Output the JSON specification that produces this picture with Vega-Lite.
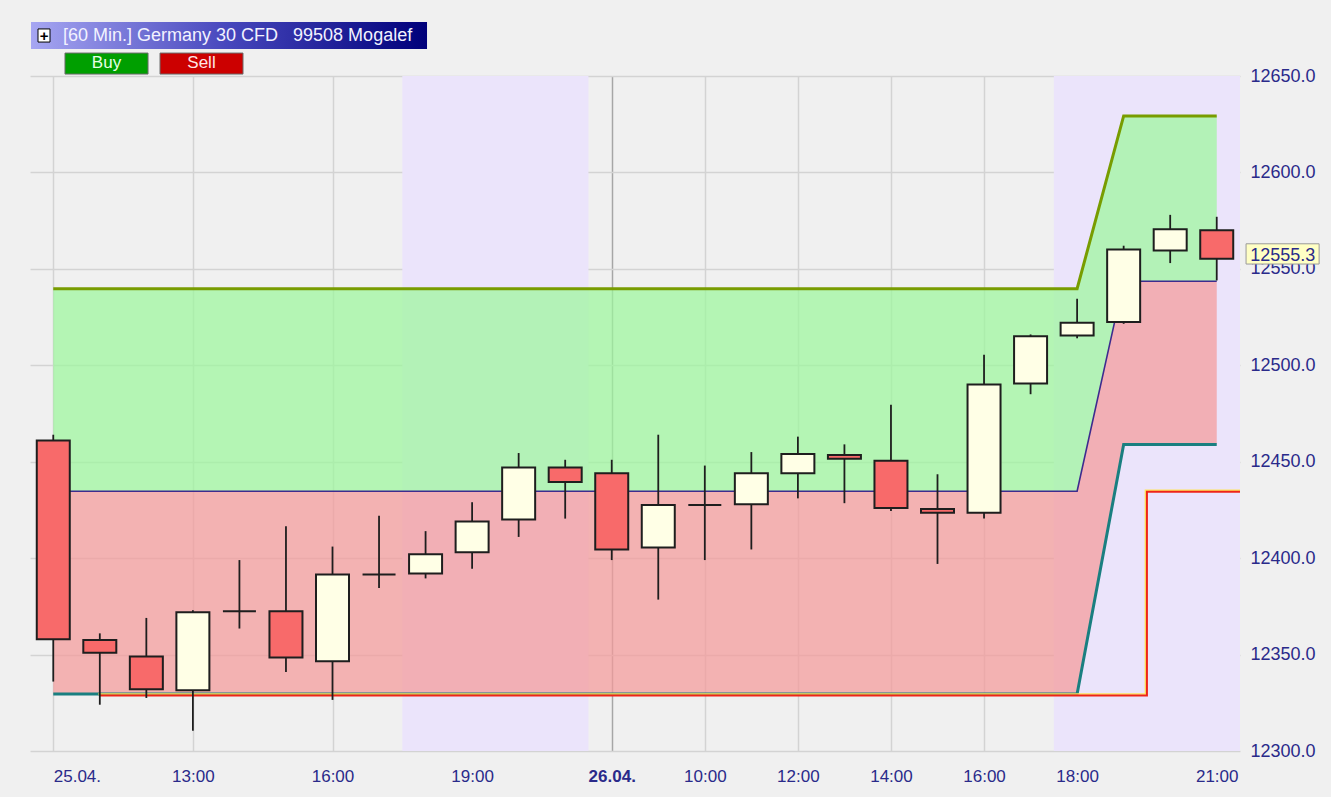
{
  "$schema": "https://vega.github.io/schema/vega-lite/v6.json",
  "width": 1210,
  "height": 675,
  "autosize": {"type": "none"},
  "padding": {"left": 30, "top": 76, "right": 91, "bottom": 46},
  "background": "#f0f0f0",
  "config": {"view": {"stroke": null}, "font": "Liberation Sans"},
  "datasets": {
    "candles": [
      {"i": 0, "time": "25.04. 10:00", "open": 12461, "high": 12464, "low": 12336, "close": 12358, "upper": 12539.7, "middle": 12434.7, "lower": 12329.6},
      {"i": 1, "time": "11:00", "open": 12357.5, "high": 12361, "low": 12324, "close": 12351, "upper": 12539.7, "middle": 12434.7, "lower": 12329.6},
      {"i": 2, "time": "12:00", "open": 12349, "high": 12369, "low": 12327.5, "close": 12332, "upper": 12539.7, "middle": 12434.7, "lower": 12329.6},
      {"i": 3, "time": "13:00", "open": 12331.5, "high": 12373, "low": 12310.5, "close": 12372, "upper": 12539.7, "middle": 12434.7, "lower": 12329.6},
      {"i": 4, "time": "14:00", "open": 12372.5, "high": 12399, "low": 12363.5, "close": 12372.5, "upper": 12539.7, "middle": 12434.7, "lower": 12329.6},
      {"i": 5, "time": "15:00", "open": 12372.5, "high": 12416.5, "low": 12341, "close": 12348.5, "upper": 12539.7, "middle": 12434.7, "lower": 12329.6},
      {"i": 6, "time": "16:00", "open": 12346.5, "high": 12406, "low": 12326.5, "close": 12391.5, "upper": 12539.7, "middle": 12434.7, "lower": 12329.6},
      {"i": 7, "time": "17:00", "open": 12391.5, "high": 12422, "low": 12384.5, "close": 12391.5, "upper": 12539.7, "middle": 12434.7, "lower": 12329.6},
      {"i": 8, "time": "18:00", "open": 12392, "high": 12414, "low": 12389.5, "close": 12402, "upper": 12539.7, "middle": 12434.7, "lower": 12329.6},
      {"i": 9, "time": "19:00", "open": 12403, "high": 12429, "low": 12394.5, "close": 12419, "upper": 12539.7, "middle": 12434.7, "lower": 12329.6},
      {"i": 10, "time": "20:00", "open": 12420, "high": 12454.5, "low": 12411, "close": 12447, "upper": 12539.7, "middle": 12434.7, "lower": 12329.6},
      {"i": 11, "time": "21:00", "open": 12447, "high": 12451, "low": 12420.5, "close": 12439.5, "upper": 12539.7, "middle": 12434.7, "lower": 12329.6},
      {"i": 12, "time": "26.04. 08:00", "open": 12444, "high": 12451, "low": 12399, "close": 12404.5, "upper": 12539.7, "middle": 12434.7, "lower": 12329.6},
      {"i": 13, "time": "09:00", "open": 12405.5, "high": 12464, "low": 12378.5, "close": 12427.5, "upper": 12539.7, "middle": 12434.7, "lower": 12329.6},
      {"i": 14, "time": "10:00", "open": 12427.5, "high": 12448, "low": 12399, "close": 12427.5, "upper": 12539.7, "middle": 12434.7, "lower": 12329.6},
      {"i": 15, "time": "11:00", "open": 12428, "high": 12455, "low": 12404.5, "close": 12444, "upper": 12539.7, "middle": 12434.7, "lower": 12329.6},
      {"i": 16, "time": "12:00", "open": 12444, "high": 12463, "low": 12431, "close": 12454, "upper": 12539.7, "middle": 12434.7, "lower": 12329.6},
      {"i": 17, "time": "13:00", "open": 12453.5, "high": 12459, "low": 12428.5, "close": 12451.5, "upper": 12539.7, "middle": 12434.7, "lower": 12329.6},
      {"i": 18, "time": "14:00", "open": 12450.5, "high": 12479.5, "low": 12424.5, "close": 12426, "upper": 12539.7, "middle": 12434.7, "lower": 12329.6},
      {"i": 19, "time": "15:00", "open": 12425.5, "high": 12443.5, "low": 12397, "close": 12423.5, "upper": 12539.7, "middle": 12434.7, "lower": 12329.6},
      {"i": 20, "time": "16:00", "open": 12423.5, "high": 12505.5, "low": 12420.5, "close": 12490, "upper": 12539.7, "middle": 12434.7, "lower": 12329.6},
      {"i": 21, "time": "17:00", "open": 12490.5, "high": 12516, "low": 12485, "close": 12515, "upper": 12539.7, "middle": 12434.7, "lower": 12329.6},
      {"i": 22, "time": "18:00", "open": 12515.5, "high": 12534.5, "low": 12514, "close": 12522, "upper": 12539.7, "middle": 12434.7, "lower": 12329.6},
      {"i": 23, "time": "19:00", "open": 12522.5, "high": 12562, "low": 12521.5, "close": 12560, "upper": 12629.3, "middle": 12543.6, "lower": 12458.9},
      {"i": 24, "time": "20:00", "open": 12559.5, "high": 12578, "low": 12553, "close": 12570.5, "upper": 12629.3, "middle": 12543.6, "lower": 12458.9},
      {"i": 25, "time": "21:00", "open": 12570, "high": 12577, "low": 12544, "close": 12555.3, "upper": 12629.3, "middle": 12543.6, "lower": 12458.9}
    ],
    "stop": [
      {"i": 1, "stop": 12328.8}, {"i": 2, "stop": 12328.8}, {"i": 3, "stop": 12328.8}, {"i": 4, "stop": 12328.8},
      {"i": 5, "stop": 12328.8}, {"i": 6, "stop": 12328.8}, {"i": 7, "stop": 12328.8}, {"i": 8, "stop": 12328.8},
      {"i": 9, "stop": 12328.8}, {"i": 10, "stop": 12328.8}, {"i": 11, "stop": 12328.8}, {"i": 12, "stop": 12328.8},
      {"i": 13, "stop": 12328.8}, {"i": 14, "stop": 12328.8}, {"i": 15, "stop": 12328.8}, {"i": 16, "stop": 12328.8},
      {"i": 17, "stop": 12328.8}, {"i": 18, "stop": 12328.8}, {"i": 19, "stop": 12328.8}, {"i": 20, "stop": 12328.8},
      {"i": 21, "stop": 12328.8}, {"i": 22, "stop": 12328.8}, {"i": 23, "stop": 12328.8}, {"i": 24, "stop": 12434.4},
      {"i": 25, "stop": 12434.4}, {"i": 26, "stop": 12434.4}
    ],
    "sessions": [
      {"session": "25.04. evening", "from": 7.5, "to": 11.5},
      {"session": "26.04. evening", "from": 21.5, "to": 25.5}
    ],
    "header": [{"title": "[60 Min.] Germany 30 CFD\u00a0\u00a0 99508 Mogalef", "icon": "+"}],
    "buttons": [{"label": "Buy"}, {"label": "Sell"}]
  },
  "layer": [
    {
      "data": {"name": "sessions"},
      "mark": {"type": "rect", "color": "#ebe4fb"},
      "encoding": {
        "x": {"field": "from", "type": "quantitative", "scale": {"domain": [-0.5, 25.5], "nice": false, "zero": false, "padding": 0}},
        "x2": {"field": "to"}
      }
    },
    {
      "data": {"name": "candles"},
      "mark": {"type": "area", "color": "#9df79d", "opacity": 0.72},
      "encoding": {
        "x": {
          "field": "i", "type": "quantitative",
          "scale": {"domain": [-0.5, 25.5], "nice": false, "zero": false, "padding": 0},
          "axis": {
            "orient": "bottom", "title": null, "domain": false, "ticks": false,
            "values": [0, 3, 6, 9, 12, 14, 16, 18, 20, 22, 25],
            "labelExpr": "{'0':'25.04.','3':'13:00','6':'16:00','9':'19:00','12':'26.04.','14':'10:00','16':'12:00','18':'14:00','20':'16:00','22':'18:00','25':'21:00'}[datum.value]",
            "labelFlush": false, "labelOverlap": false,
            "labelFontSize": 17, "labelColor": "#2a2a8a", "labelPadding": 17,
            "labelFontWeight": {"condition": {"test": "datum.value == 12", "value": "bold"}, "value": "normal"},
            "labelAlign": {"condition": {"test": "datum.value == 0", "value": "left"}, "value": "center"},
            "grid": true, "gridWidth": 1.5,
            "gridColor": {"condition": {"test": "datum.value == 12", "value": "#a6a6a6"}, "value": "#d3d3d3"}
          }
        },
        "y": {
          "field": "upper", "type": "quantitative",
          "scale": {"domain": [12300, 12650], "nice": false, "zero": false},
          "axis": {
            "orient": "right", "title": null, "domain": false, "ticks": false,
            "values": [12300, 12350, 12400, 12450, 12500, 12550, 12600, 12650],
            "format": ".1f", "labelOverlap": false, "labelFlush": false,
            "labelFontSize": 18, "labelColor": "#2a2a8a", "labelPadding": 10,
            "grid": true, "gridColor": "#d3d3d3", "gridWidth": 1.5
          }
        },
        "y2": {"field": "middle"}
      }
    },
    {
      "data": {"name": "candles"},
      "mark": {"type": "area", "color": "#f49a9a", "opacity": 0.72},
      "encoding": {
        "x": {"field": "i", "type": "quantitative", "scale": {"domain": [-0.5, 25.5], "nice": false, "zero": false, "padding": 0}},
        "y": {"field": "middle", "type": "quantitative", "scale": {"domain": [12300, 12650], "nice": false, "zero": false}},
        "y2": {"field": "lower"}
      }
    },
    {
      "data": {"name": "candles"},
      "mark": {"type": "line", "color": "#789c00", "strokeWidth": 3},
      "encoding": {
        "x": {"field": "i", "type": "quantitative", "scale": {"domain": [-0.5, 25.5], "nice": false, "zero": false, "padding": 0}},
        "y": {"field": "upper", "type": "quantitative", "scale": {"domain": [12300, 12650], "nice": false, "zero": false}}
      }
    },
    {
      "data": {"name": "candles"},
      "mark": {"type": "line", "color": "#3d2b8e", "strokeWidth": 1.6},
      "encoding": {
        "x": {"field": "i", "type": "quantitative", "scale": {"domain": [-0.5, 25.5], "nice": false, "zero": false, "padding": 0}},
        "y": {"field": "middle", "type": "quantitative", "scale": {"domain": [12300, 12650], "nice": false, "zero": false}}
      }
    },
    {
      "data": {"name": "candles"},
      "mark": {"type": "line", "color": "#1a7f80", "strokeWidth": 3},
      "encoding": {
        "x": {"field": "i", "type": "quantitative", "scale": {"domain": [-0.5, 25.5], "nice": false, "zero": false, "padding": 0}},
        "y": {"field": "lower", "type": "quantitative", "scale": {"domain": [12300, 12650], "nice": false, "zero": false}}
      }
    },
    {
      "data": {"name": "stop"},
      "mark": {"type": "line", "color": "#ffe45a", "strokeWidth": 1.5, "interpolate": "step", "xOffset": -1.5, "yOffset": -1.5, "clip": true},
      "encoding": {
        "x": {"field": "i", "type": "quantitative", "scale": {"domain": [-0.5, 25.5], "nice": false, "zero": false, "padding": 0}},
        "y": {"field": "stop", "type": "quantitative", "scale": {"domain": [12300, 12650], "nice": false, "zero": false}}
      }
    },
    {
      "data": {"name": "stop"},
      "mark": {"type": "line", "color": "#ee2419", "strokeWidth": 2, "interpolate": "step", "clip": true},
      "encoding": {
        "x": {"field": "i", "type": "quantitative", "scale": {"domain": [-0.5, 25.5], "nice": false, "zero": false, "padding": 0}},
        "y": {"field": "stop", "type": "quantitative", "scale": {"domain": [12300, 12650], "nice": false, "zero": false}}
      }
    },
    {
      "data": {"name": "candles"},
      "mark": {"type": "rule", "color": "#1e1e1e", "strokeWidth": 1.8},
      "encoding": {
        "x": {"field": "i", "type": "quantitative", "scale": {"domain": [-0.5, 25.5], "nice": false, "zero": false, "padding": 0}},
        "y": {"field": "low", "type": "quantitative", "scale": {"domain": [12300, 12650], "nice": false, "zero": false}},
        "y2": {"field": "high"}
      }
    },
    {
      "data": {"name": "candles"},
      "mark": {"type": "bar", "orient": "vertical", "width": 33, "stroke": "#1e1e1e", "strokeWidth": 2},
      "encoding": {
        "x": {"field": "i", "type": "quantitative", "scale": {"domain": [-0.5, 25.5], "nice": false, "zero": false, "padding": 0}},
        "y": {"field": "open", "type": "quantitative", "scale": {"domain": [12300, 12650], "nice": false, "zero": false}},
        "y2": {"field": "close"},
        "fill": {
          "condition": {"test": "datum.close < datum.open", "value": "#f86a6a"},
          "value": "#ffffe6"
        }
      }
    },
    {
      "data": {"name": "candles"},
      "transform": [{"filter": "datum.i == 25"}],
      "mark": {"type": "rect", "fill": "#8a8a8a", "opacity": 0.45, "xOffset": 3, "yOffset": 3, "clip": false},
      "encoding": {
        "x": {"datum": 25.63, "type": "quantitative", "scale": {"domain": [-0.5, 25.5], "nice": false, "zero": false, "padding": 0}},
        "x2": {"datum": 27.2},
        "y": {"datum": 12563, "type": "quantitative", "scale": {"domain": [12300, 12650], "nice": false, "zero": false}},
        "y2": {"datum": 12552.5}
      }
    },
    {
      "data": {"name": "candles"},
      "transform": [{"filter": "datum.i == 25"}],
      "mark": {"type": "rect", "fill": "#ffffc4", "stroke": "#9a9a9a", "strokeWidth": 1, "clip": false},
      "encoding": {
        "x": {"datum": 25.63, "type": "quantitative", "scale": {"domain": [-0.5, 25.5], "nice": false, "zero": false, "padding": 0}},
        "x2": {"datum": 27.2},
        "y": {"datum": 12563, "type": "quantitative", "scale": {"domain": [12300, 12650], "nice": false, "zero": false}},
        "y2": {"datum": 12552.5}
      }
    },
    {
      "data": {"name": "candles"},
      "transform": [{"filter": "datum.i == 25"}],
      "mark": {"type": "text", "align": "left", "baseline": "middle", "fontSize": 18, "color": "#2a2a8a", "dy": -3, "clip": false},
      "encoding": {
        "x": {"datum": 25.72, "type": "quantitative", "scale": {"domain": [-0.5, 25.5], "nice": false, "zero": false, "padding": 0}},
        "y": {"field": "close", "type": "quantitative", "scale": {"domain": [12300, 12650], "nice": false, "zero": false}},
        "text": {"field": "close", "type": "quantitative", "format": ".1f"}
      }
    },
    {
      "data": {"name": "header"},
      "mark": {
        "type": "rect", "clip": false,
        "fill": {"gradient": "linear", "x1": 0, "y1": 0, "x2": 1, "y2": 0,
          "stops": [{"offset": 0, "color": "#a6a6f2"}, {"offset": 0.5, "color": "#4646bc"}, {"offset": 1, "color": "#00007a"}]}
      },
      "encoding": {
        "x": {"datum": -0.4785, "type": "quantitative", "scale": {"domain": [-0.5, 25.5], "nice": false, "zero": false, "padding": 0}},
        "x2": {"datum": 8.031},
        "y": {"datum": 12678.0, "type": "quantitative", "scale": {"domain": [12300, 12650], "nice": false, "zero": false}},
        "y2": {"datum": 12664.0}
      }
    },
    {
      "data": {"name": "header"},
      "mark": {"type": "rect", "fill": "#ffffff", "stroke": "#000000", "strokeWidth": 1, "clip": false},
      "encoding": {
        "x": {"datum": -0.328, "type": "quantitative", "scale": {"domain": [-0.5, 25.5], "nice": false, "zero": false, "padding": 0}},
        "x2": {"datum": -0.07},
        "y": {"datum": 12674.4, "type": "quantitative", "scale": {"domain": [12300, 12650], "nice": false, "zero": false}},
        "y2": {"datum": 12667.6}
      }
    },
    {
      "data": {"name": "header"},
      "mark": {"type": "text", "align": "center", "baseline": "middle", "fontSize": 15, "fontWeight": "bold", "color": "#000000", "clip": false},
      "encoding": {
        "x": {"datum": -0.199, "type": "quantitative", "scale": {"domain": [-0.5, 25.5], "nice": false, "zero": false, "padding": 0}},
        "y": {"datum": 12671.0, "type": "quantitative", "scale": {"domain": [12300, 12650], "nice": false, "zero": false}},
        "text": {"field": "icon"}
      }
    },
    {
      "data": {"name": "header"},
      "mark": {"type": "text", "align": "left", "baseline": "middle", "fontSize": 18, "color": "#f2f2ff", "clip": false},
      "encoding": {
        "x": {"datum": 0.209, "type": "quantitative", "scale": {"domain": [-0.5, 25.5], "nice": false, "zero": false, "padding": 0}},
        "y": {"datum": 12670.9, "type": "quantitative", "scale": {"domain": [12300, 12650], "nice": false, "zero": false}},
        "text": {"field": "title"}
      }
    },
    {
      "data": {"name": "buttons"},
      "transform": [{"filter": "datum.label == 'Buy'"}],
      "mark": {"type": "rect", "fill": "#009f00", "stroke": "#6b6b6b", "strokeWidth": 1, "clip": false},
      "encoding": {
        "x": {"datum": 0.252, "type": "quantitative", "scale": {"domain": [-0.5, 25.5], "nice": false, "zero": false, "padding": 0}},
        "x2": {"datum": 2.036},
        "y": {"datum": 12661.9, "type": "quantitative", "scale": {"domain": [12300, 12650], "nice": false, "zero": false}},
        "y2": {"datum": 12651.0}
      }
    },
    {
      "data": {"name": "buttons"},
      "transform": [{"filter": "datum.label == 'Buy'"}],
      "mark": {"type": "text", "align": "center", "baseline": "middle", "fontSize": 17, "color": "#e6ffe6", "clip": false},
      "encoding": {
        "x": {"datum": 1.144, "type": "quantitative", "scale": {"domain": [-0.5, 25.5], "nice": false, "zero": false, "padding": 0}},
        "y": {"datum": 12656.5, "type": "quantitative", "scale": {"domain": [12300, 12650], "nice": false, "zero": false}},
        "text": {"field": "label"}
      }
    },
    {
      "data": {"name": "buttons"},
      "transform": [{"filter": "datum.label == 'Sell'"}],
      "mark": {"type": "rect", "fill": "#cc0000", "stroke": "#6b6b6b", "strokeWidth": 1, "clip": false},
      "encoding": {
        "x": {"datum": 2.294, "type": "quantitative", "scale": {"domain": [-0.5, 25.5], "nice": false, "zero": false, "padding": 0}},
        "x2": {"datum": 4.077},
        "y": {"datum": 12661.9, "type": "quantitative", "scale": {"domain": [12300, 12650], "nice": false, "zero": false}},
        "y2": {"datum": 12651.0}
      }
    },
    {
      "data": {"name": "buttons"},
      "transform": [{"filter": "datum.label == 'Sell'"}],
      "mark": {"type": "text", "align": "center", "baseline": "middle", "fontSize": 17, "color": "#ffe6e6", "clip": false},
      "encoding": {
        "x": {"datum": 3.185, "type": "quantitative", "scale": {"domain": [-0.5, 25.5], "nice": false, "zero": false, "padding": 0}},
        "y": {"datum": 12656.5, "type": "quantitative", "scale": {"domain": [12300, 12650], "nice": false, "zero": false}},
        "text": {"field": "label"}
      }
    }
  ]
}
